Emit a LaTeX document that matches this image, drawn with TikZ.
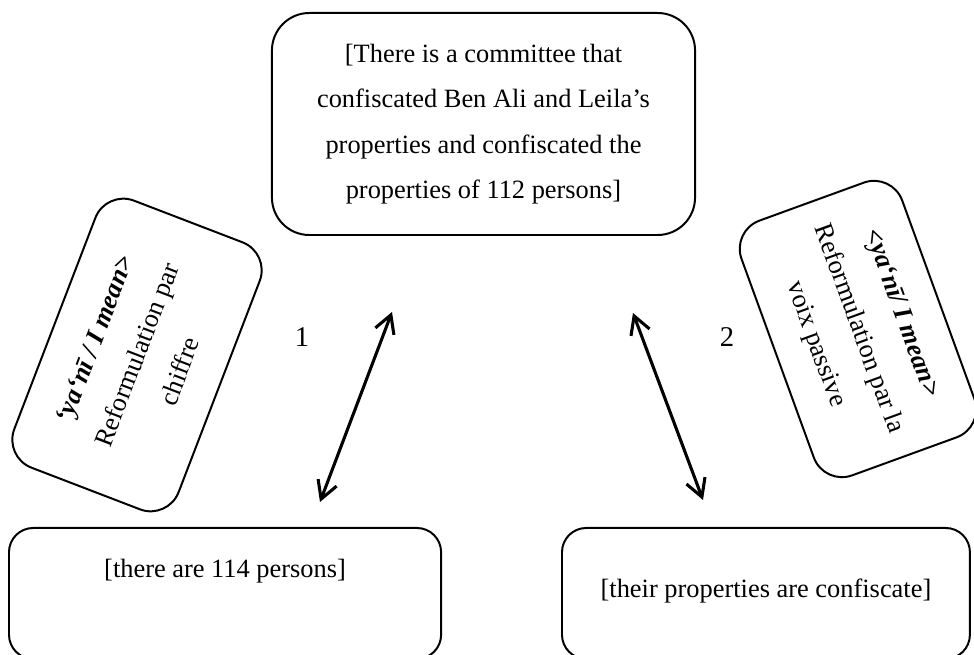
\documentclass[tikz,border=0pt]{standalone}
\usepackage{fontspec}
\setmainfont{Liberation Serif}
\usetikzlibrary{arrows.meta}

\tikzset{
    bubble/.style={draw, line width=0.9pt, align=center, font=\fontsize{12}{20.7}\selectfont},
    tiltbox/.style={bubble, rounded corners=13.6pt, inner sep=0pt},
    lowbox/.style={bubble, rounded corners=11pt, anchor=north west, inner ysep=0pt},
    twoway/.style={{Straight Barb[length=8pt,width=9pt]}-{Straight Barb[length=8pt,width=9pt]}, line width=1.4pt}
}

\begin{document}
\begin{tikzpicture}[x=0.4545pt, y=-0.4545pt]

    \useasboundingbox (0,0) rectangle (974,655);

    % statement
    \node[bubble, rounded corners=17pt, minimum width=192.3pt, minimum height=100.9pt] (comite) at (483.5,124)
        {[There is a committee that\\confiscated Ben Ali and Leila’s\\properties and confiscated the\\properties of 112 persons]};

    % reformulations
    \node[tiltbox, rotate=69, minimum width=130pt, minimum height=80pt] (chiffre) at (137,355)
        {\textbf{\textit{‘ya‘nī / I mean>}}\\Reformulation par\\chiffre};
    \node[tiltbox, rotate=-70, minimum width=123.2pt, minimum height=77.7pt] (passive) at (858,329)
        {\textbf{\textit{<ya‘nī/ I mean>}}\\Reformulation par la\\voix passive};

    \node[lowbox, minimum width=196.4pt, text height=22.7pt, text depth=36.8pt] (persons) at (8,527) {[there are 114 persons]};
    \node[lowbox, minimum width=185.4pt, text height=31.8pt, text depth=27.7pt] (confisque) at (561,527) {[their properties are confiscate]};

    % double arrows
    \coordinate (up1) at (392,312);
    \coordinate (down1) at (320,502);
    \coordinate (up2) at (633,313);
    \coordinate (down2) at (703,500);
    \draw[twoway] (up1) -- (down1);
    \draw[twoway] (up2) -- (down2);

    \node[font=\fontsize{13}{15}\selectfont] (one) at (302,337) {1};
    \node[font=\fontsize{13}{15}\selectfont] (two) at (727,337) {2};

\end{tikzpicture}
\end{document}
